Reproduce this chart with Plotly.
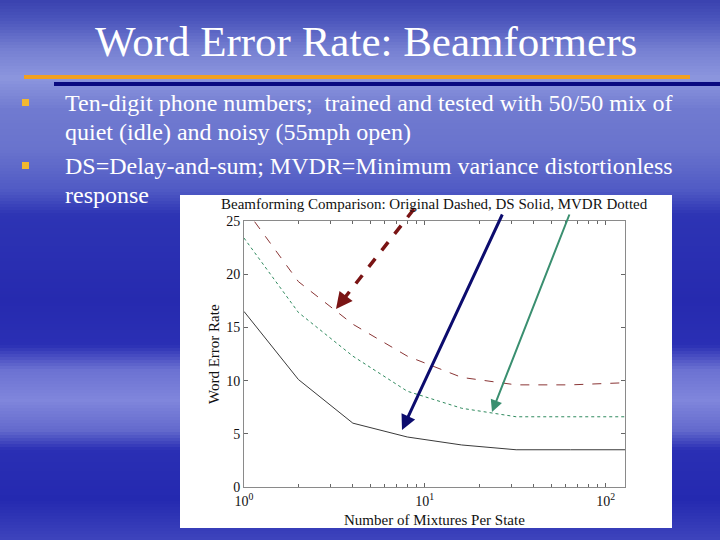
import plotly.graph_objects as go

# ---- data ----
mixtures = [1, 2, 4, 8, 16, 32, 64, 128]
original_wer = [26.3, 19.3, 15.3, 12.3, 10.3, 9.6, 9.6, 9.8]
mvdr_wer = [23.4, 16.4, 12.3, 9.0, 7.4, 6.6, 6.6, 6.6]
ds_wer = [16.5, 10.1, 6.0, 4.7, 3.95, 3.5, 3.5, 3.5]
y_ticks = [0, 5, 10, 15, 20, 25]
x_tickvals = [1, 10, 100]
x_ticktext = ["10<sup>0</sup>", "10<sup>1</sup>", "10<sup>2</sup>"]
minor_ticks = [2, 3, 4, 5, 6, 7, 8, 9, 20, 30, 40, 50, 60, 70, 80, 90]

slide_title = "Word Error Rate: Beamformers"
bullets = [
    ["Ten-digit phone numbers;  trained and tested with 50/50 mix of",
     "quiet (idle) and noisy (55mph open)"],
    ["DS=Delay-and-sum; MVDR=Minimum variance distortionless",
     "response"],
]
chart_title = "Beamforming Comparison: Original Dashed, DS Solid, MVDR Dotted"

W, H = 720, 540
SERIF = "Liberation Serif, Times New Roman, serif"


def px(x):
    return x / W


def py(y):
    return 1 - y / H


fig = go.Figure()
fig.add_trace(go.Scatter(x=mixtures, y=original_wer, mode="lines", name="Original",
                         line=dict(color="#8a3535", width=1, dash="dash")))
fig.add_trace(go.Scatter(x=mixtures, y=mvdr_wer, mode="lines", name="MVDR",
                         line=dict(color="#2f8a5e", width=1, dash="dot")))
fig.add_trace(go.Scatter(x=mixtures, y=ds_wer, mode="lines", name="DS",
                         line=dict(color="#3a3a3a", width=1)))

shapes = []
# background gradient strips
keys = [(0, (58, 66, 175)), (20, (75, 85, 188)), (50, (118, 128, 210)), (78, (140, 150, 222)),
        (110, (112, 122, 208)), (150, (105, 115, 205)), (190, (80, 90, 196)), (215, (45, 52, 180)),
        (300, (38, 42, 175)), (345, (42, 47, 180)), (370, (108, 114, 210)), (400, (128, 134, 220)),
        (430, (100, 106, 205)), (450, (42, 47, 180)), (500, (36, 41, 176)), (540, (62, 68, 188))]


def col_at(y):
    for (y0, c0), (y1, c1) in zip(keys[:-1], keys[1:]):
        if y0 <= y <= y1:
            t = (y - y0) / (y1 - y0)
            return "rgb(%d,%d,%d)" % tuple(round(a + (b - a) * t) for a, b in zip(c0, c1))
    return "rgb(%d,%d,%d)" % keys[-1][1]


step = 3
for y in range(0, H, step):
    shapes.append(dict(type="rect", xref="paper", yref="paper", x0=0, x1=1,
                       y0=py(y + step), y1=py(y), fillcolor=col_at(y + step / 2),
                       line=dict(width=0), layer="below"))
# white chart box
shapes.append(dict(type="rect", xref="paper", yref="paper", x0=px(180), x1=px(672),
                   y0=py(528), y1=py(195), fillcolor="white", line=dict(width=0), layer="below"))
# title rules
shapes.append(dict(type="line", xref="paper", yref="paper", x0=px(24), x1=px(690),
                   y0=py(77), y1=py(77), line=dict(color="#f0a020", width=4)))
shapes.append(dict(type="line", xref="paper", yref="paper", x0=px(54), x1=px(720),
                   y0=py(84), y1=py(84), line=dict(color="#0a0a80", width=4)))
# bullet squares
for by in [102, 165]:
    shapes.append(dict(type="rect", xref="paper", yref="paper", x0=px(22), x1=px(29),
                       y0=py(by + 4), y1=py(by - 3),
                       fillcolor="#f2b830", line=dict(width=0)))
# red dashed arrow shaft
shapes.append(dict(type="line", xref="paper", yref="paper", x0=px(414), y0=py(209),
                   x1=px(343), y1=py(300), line=dict(color="#7a1414", width=3.5, dash="dash")))

annotations = []
annotations.append(dict(text=slide_title, xref="paper", yref="paper", x=px(366), y=py(42),
                        showarrow=False, xanchor="center", yanchor="middle",
                        font=dict(family=SERIF, size=43, color="white")))
line_ys = [[103, 132], [166, 195]]
for lines, ys in zip(bullets, line_ys):
    for t, yy in zip(lines, ys):
        annotations.append(dict(text=t, xref="paper", yref="paper", x=px(63), y=py(yy),
                                showarrow=False, xanchor="left", yanchor="middle",
                                font=dict(family=SERIF, size=24, color="white")))
annotations.append(dict(text=chart_title, xref="paper", yref="paper", x=px(434), y=py(204),
                        showarrow=False, xanchor="center", yanchor="middle",
                        font=dict(family=SERIF, size=15, color="#111")))
annotations.append(dict(text="Word Error Rate", xref="paper", yref="paper", x=px(214), y=py(354),
                        showarrow=False, textangle=-90, xanchor="center", yanchor="middle",
                        font=dict(family=SERIF, size=15, color="#111")))
annotations.append(dict(text="Number of Mixtures Per State", xref="paper", yref="paper",
                        x=px(434), y=py(520), showarrow=False, xanchor="center", yanchor="middle",
                        font=dict(family=SERIF, size=15, color="#111")))
# arrows
annotations.append(dict(text="", xref="paper", yref="paper", x=px(336), y=py(309),
                        ax=10, ay=-13, showarrow=True, arrowhead=2, arrowsize=1.1,
                        arrowwidth=3, arrowcolor="#7a1414"))
annotations.append(dict(text="", xref="paper", yref="paper", x=px(402), y=py(430),
                        ax=101, ay=-217, showarrow=True, arrowhead=2, arrowsize=1,
                        arrowwidth=3, arrowcolor="#0c0c6e"))
annotations.append(dict(text="", xref="paper", yref="paper", x=px(492), y=py(412),
                        ax=78, ay=-199, showarrow=True, arrowhead=2, arrowsize=1.2,
                        arrowwidth=2, arrowcolor="#3a8f70"))

axis_common = dict(showgrid=False, zeroline=False, showline=True, linecolor="#8a8a8a",
                   linewidth=1, mirror="ticks", ticks="inside", ticklen=4,
                   tickcolor="#666", automargin=False,
                   tickfont=dict(family=SERIF, size=14, color="#111"))

fig.update_layout(
    width=W, height=H, margin=dict(l=0, r=0, t=0, b=0, pad=0, autoexpand=False),
    paper_bgcolor="#2a30b0", plot_bgcolor="white", showlegend=False,
    font=dict(family=SERIF),
    shapes=shapes, annotations=annotations,
    xaxis=dict(type="log", range=[0, 2.1072], domain=[px(244), px(625)],
               tickvals=x_tickvals, ticktext=x_ticktext, ticklabelstandoff=1,
               minor=dict(tickvals=minor_ticks, ticks="inside", ticklen=3, tickcolor="#666"),
               **axis_common),
    yaxis=dict(range=[0, 25], domain=[py(487), py(221)], tickvals=y_ticks,
               **axis_common),
)

fig.write_html("out.html", config={"displayModeBar": False},
               post_script="document.body.style.margin='0';document.body.style.overflow='hidden';")
